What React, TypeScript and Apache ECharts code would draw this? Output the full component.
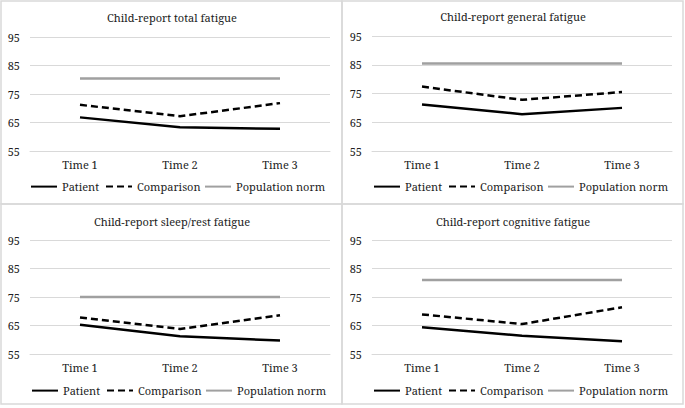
import React, { useEffect, useRef } from "react";
import * as echarts from "echarts";

const categories = ["Time 1", "Time 2", "Time 3"];
const titles = [
  "Child-report total fatigue",
  "Child-report general fatigue",
  "Child-report sleep/rest fatigue",
  "Child-report cognitive fatigue",
];
const patient = [
  [66.8, 63.3, 62.8],
  [71.2, 67.8, 70.0],
  [65.3, 61.2, 59.7],
  [64.4, 61.4, 59.5],
];
const comparison = [
  [71.2, 67.2, 71.8],
  [77.4, 72.8, 75.5],
  [67.8, 63.8, 68.6],
  [68.9, 65.5, 71.4],
];
const populationNorm = [
  [80.4, 80.4, 80.4],
  [85.4, 85.4, 85.4],
  [75.0, 75.0, 75.0],
  [81.0, 81.0, 81.0],
];
const yTicks = { min: 55, max: 95, interval: 10 };
const seriesNames = ["Patient", "Comparison", "Population norm"];

const FONT = "Noto Serif";
const FS = 11;
const TEXT = "#222";

const grids = [
  { left: 30, top: 37, width: 300, height: 114 },
  { left: 372, top: 36, width: 300, height: 115 },
  { left: 30, top: 240, width: 300, height: 114 },
  { left: 372, top: 240, width: 300, height: 114 },
];
const titlePos = [
  { x: 172, y: 17 },
  { x: 513, y: 16 },
  { x: 172, y: 221 },
  { x: 513, y: 221 },
];
const legendRows = [
  { left: 30, top: 181 },
  { left: 373, top: 181 },
  { left: 31, top: 385 },
  { left: 373, top: 385 },
];
const legendOffsets = [0, 75, 174];
const borders = [
  { x: 1, y: 1, width: 341, height: 203 },
  { x: 342, y: 1, width: 341, height: 203 },
  { x: 1, y: 204, width: 341, height: 200 },
  { x: 342, y: 204, width: 341, height: 200 },
];

export default function App() {
  const ref = useRef<HTMLDivElement>(null);
  useEffect(() => {
    if (!ref.current) return;
    const chart = echarts.init(ref.current, null, { renderer: "svg" });
    const series: any[] = [];
    const styles = [
      { color: "#000", width: 2.5, type: "solid" },
      { color: "#000", width: 2.5, type: [7, 4] },
      { color: "#a0a0a0", width: 2.5, type: "solid" },
    ];
    for (let i = 0; i < 4; i++) {
      const sets = [patient[i], comparison[i], populationNorm[i]];
      sets.forEach((d, k) => {
        series.push({
          type: "line",
          name: seriesNames[k],
          xAxisIndex: i,
          yAxisIndex: i,
          data: d,
          symbol: "none",
          color: styles[k].color,
          lineStyle: styles[k],
          z: 3 - k,
        });
      });
    }
    const legends: any[] = [];
    legendRows.forEach((p) => {
      seriesNames.forEach((n, k) => {
        legends.push({
          data: [n],
          left: p.left + legendOffsets[k],
          top: p.top,
          itemWidth: 26,
          itemHeight: 14,
          padding: 0,
          itemStyle: { color: "rgba(0,0,0,0)", opacity: 0, borderWidth: 0 },
          textStyle: { fontFamily: FONT, fontSize: FS, color: TEXT },
        });
      });
    });
    const option: any = {
      animation: false,
      title: titles.map((t, i) => ({
        text: t,
        left: titlePos[i].x,
        top: titlePos[i].y,
        textAlign: "center",
        textVerticalAlign: "middle",
        textStyle: { fontFamily: FONT, fontSize: FS, fontWeight: "normal", color: TEXT },
        padding: 0,
      })),
      legend: legends,
      grid: grids,
      xAxis: grids.map((_, i) => ({
        type: "category",
        gridIndex: i,
        data: categories,
        boundaryGap: true,
        axisLine: { show: true, lineStyle: { color: "#d9d9d9", width: 1 } },
        axisTick: { show: false },
        axisLabel: { fontFamily: FONT, fontSize: FS, color: TEXT, margin: 8 },
      })),
      yAxis: grids.map((_, i) => ({
        type: "value",
        gridIndex: i,
        min: yTicks.min,
        max: yTicks.max,
        interval: yTicks.interval,
        axisLine: { show: false },
        axisTick: { show: false },
        splitLine: { lineStyle: { color: "#d9d9d9", width: 1 } },
        axisLabel: { fontFamily: FONT, fontSize: FS, color: TEXT, margin: 10 },
      })),
      graphic: borders.map((b) => ({
        type: "rect",
        shape: b,
        style: { fill: "none", stroke: "#d9d9d9", lineWidth: 1.5 },
        silent: true,
      })),
      series,
    };
    chart.setOption(option);
    return () => chart.dispose();
  }, []);
  return (
    <div
      ref={ref}
      style={{ position: "fixed", left: 0, top: 0, width: 685, height: 408, background: "#fff" }}
    />
  );
}
